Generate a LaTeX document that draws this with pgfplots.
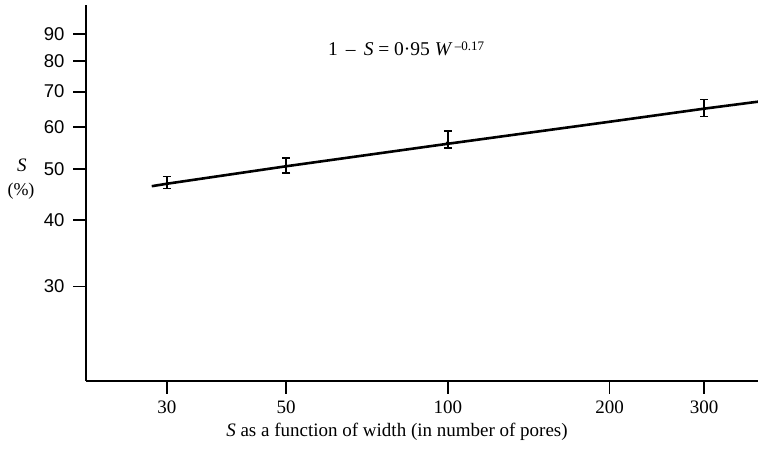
\documentclass[border=0pt]{standalone}
\usepackage{fontspec}
\setmainfont{Liberation Serif}
\newfontfamily\helv{Liberation Sans}
\usepackage{pgfplots}
\pgfplotsset{compat=1.18}
\begin{document}
\begin{tikzpicture}
\useasboundingbox (-86pt,-76pt) rectangle (672pt,381pt);
\begin{axis}[
  at={(0pt,0pt)}, anchor=south west,
  scale only axis, width=672pt, height=376pt,
  xmode=log, ymode=log,
  xmin=21.2, xmax=378, ymin=19.9, ymax=102,
  axis x line*=bottom, axis y line*=left,
  axis line style={line width=1.8pt, -},
  xtick={30,50,100,200,300}, xticklabels={30,50,100,200,300},
  ytick={30,40,50,60,70,80,90}, yticklabels={30,40,50,60,70,80,90},
  minor xtick={}, minor ytick={},
  tick align=outside, major tick length=13pt,
  tick style={line width=1.8pt, black},
  xticklabel style={font=\fontsize{19}{19}\selectfont, yshift=-3pt},
  yticklabel style={font=\helv\fontsize{18.5}{18.5}\selectfont, xshift=-5pt},
  /pgf/number format/assume math mode=true,
  clip=false,
]
% fitted line
\addplot[black, line width=2.6pt] coordinates {
  (28.1,46.4) (30,46.9) (50,50.6) (100,55.8) (200,61.4) (300,65.0) (378,67.0)};
% data with error bars
\addplot[black, only marks, mark=*, mark size=1.6pt,
  error bars/.cd, y dir=both, y explicit,
  error bar style={line width=1.6pt},
  error mark options={line width=1.6pt, mark size=4pt, rotate=90}]
  coordinates {
  (30,46.9) += (0,1.5) -= (0,1.0)
  (50,50.7) += (0,1.7) -= (0,1.5)
  (100,56.1) += (0,2.9) -= (0,1.3)
  (300,65.1) += (0,2.5) -= (0,2.3)
};
% heavy tick marks as in the original
\addplot[black, line width=1.8pt, forget plot] coordinates {(30,19.9) (30,18.8)};
\addplot[black, line width=1.8pt, forget plot] coordinates {(50,19.9) (50,18.8)};
\addplot[black, line width=1.8pt, forget plot] coordinates {(100,19.9) (100,18.8)};
\addplot[black, line width=1.8pt, forget plot] coordinates {(200,19.9) (200,18.8)};
\addplot[black, line width=1.8pt, forget plot] coordinates {(300,19.9) (300,18.8)};
\addplot[black, line width=1.8pt, forget plot] coordinates {(21.2,30) (20.05,30)};
\addplot[black, line width=1.8pt, forget plot] coordinates {(21.2,40) (20.05,40)};
\addplot[black, line width=1.8pt, forget plot] coordinates {(21.2,50) (20.05,50)};
\addplot[black, line width=1.8pt, forget plot] coordinates {(21.2,60) (20.05,60)};
\addplot[black, line width=1.8pt, forget plot] coordinates {(21.2,70) (20.05,70)};
\addplot[black, line width=1.8pt, forget plot] coordinates {(21.2,80) (20.05,80)};
\addplot[black, line width=1.8pt, forget plot] coordinates {(21.2,90) (20.05,90)};
\end{axis}
\node[font=\fontsize{19.5}{19.5}\selectfont] at (320pt,332pt)
  {1 \,–\, \textit{S} = 0·95 \textit{W}\raisebox{0.55ex}{\fontsize{13}{13}\selectfont\,–0.17}};
\node[font=\fontsize{19}{19}\selectfont\itshape] at (-64pt,216pt) {S};
\node[font=\fontsize{18}{18}\selectfont] at (-65pt,190pt) {(\%)};
\node[font=\fontsize{19}{19}\selectfont] at (311pt,-51pt) {\textit{S} as a function of width (in number of pores)};
\end{tikzpicture}
\end{document}
